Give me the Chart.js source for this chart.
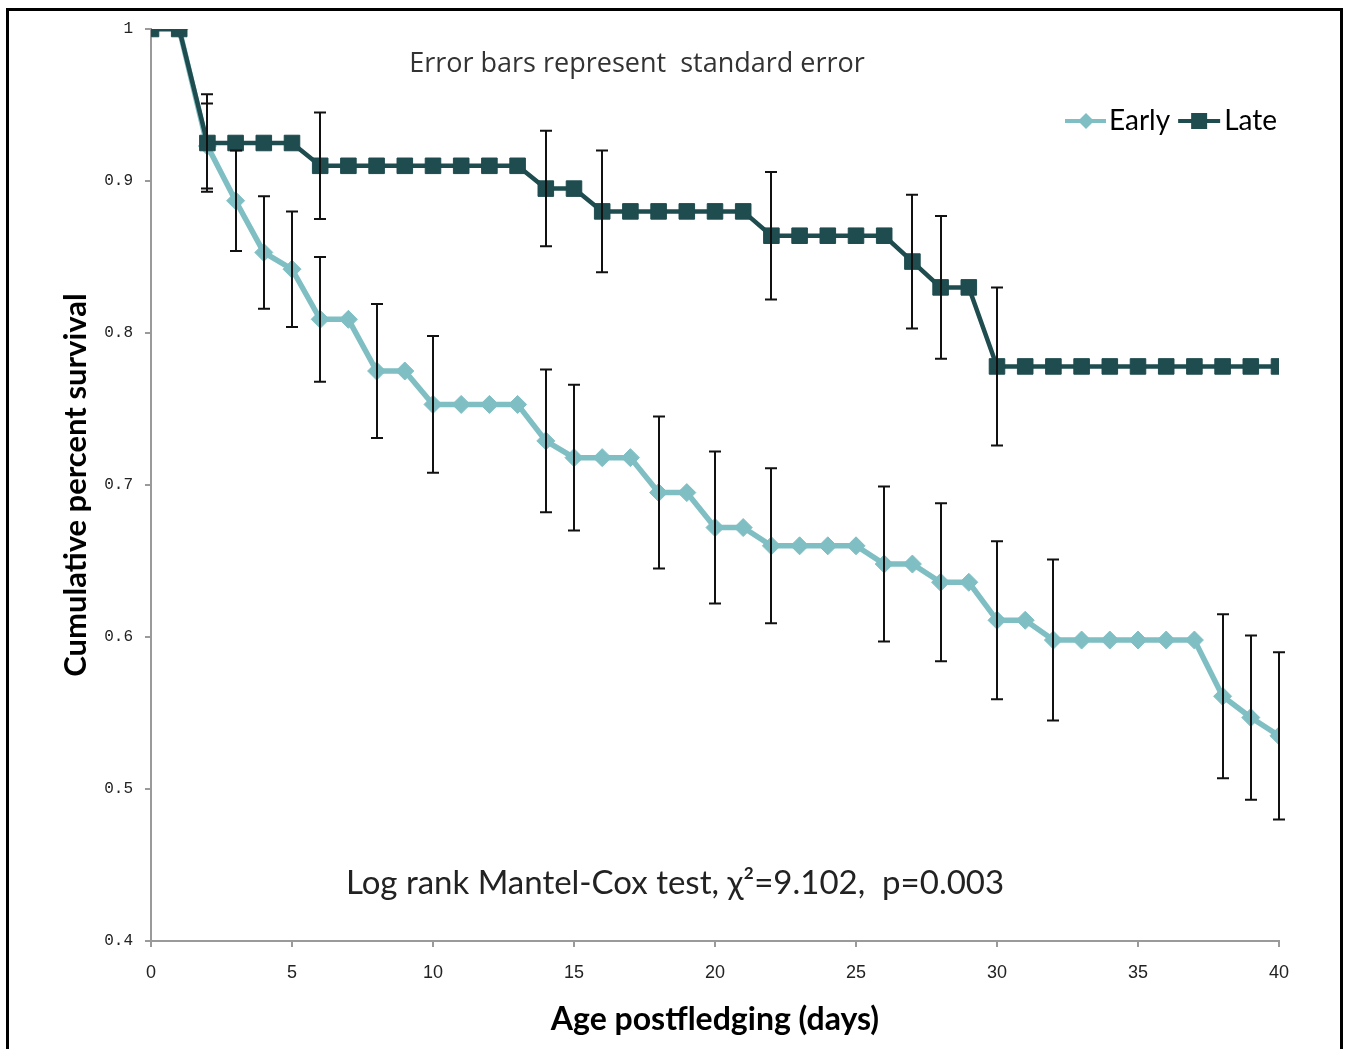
<!DOCTYPE html>
<html>
<head>
<meta charset="utf-8">
<title>Cumulative survival</title>
<script src="https://cdn.jsdelivr.net/npm/chart.js@4.4.1/dist/chart.umd.min.js"></script>
<style>
  body { margin: 0; background: #fff; overflow: hidden; }
  #wrap { position: relative; width: 1351px; height: 1049px; }
  #frame { position: absolute; left: 6px; top: 8px; width: 1337px; height: 1100px; border: 3px solid #000; box-sizing: border-box; }
  canvas { position: absolute; left: 0; top: 0; }
</style>
</head>
<body>
<div id="wrap">
  <div id="frame"></div>
  <canvas id="survival_chart" width="1351" height="1049"></canvas>
</div>
<script>
// days after fledging
const days = [0, 1, 2, 3, 4, 5, 6, 7, 8, 9, 10, 11, 12, 13, 14, 15, 16, 17, 18, 19, 20,
  21, 22, 23, 24, 25, 26, 27, 28, 29, 30, 31, 32, 33, 34, 35, 36, 37, 38, 39, 40];

// early broods
const early = [1, 1, 0.923, 0.887, 0.853, 0.842, 0.809, 0.809, 0.775, 0.775, 0.753,
  0.753, 0.753, 0.753, 0.729, 0.718, 0.718, 0.718, 0.695, 0.695, 0.672,
  0.672, 0.66, 0.66, 0.66, 0.66, 0.648, 0.648, 0.636, 0.636, 0.611,
  0.611, 0.598, 0.598, 0.598, 0.598, 0.598, 0.598, 0.561, 0.547, 0.535];
const earlyErr = [null, null, 0.028, 0.033, 0.037, 0.038, 0.041, null, 0.044, null, 0.045,
  null, null, null, 0.047, 0.048, null, null, 0.05, null, 0.05,
  null, 0.051, null, null, null, 0.051, null, 0.052, null, 0.052,
  null, 0.053, null, null, null, null, null, 0.054, 0.054, 0.055];

// late broods
const late = [1, 1, 0.925, 0.925, 0.925, 0.925, 0.91, 0.91, 0.91, 0.91, 0.91,
  0.91, 0.91, 0.91, 0.895, 0.895, 0.88, 0.88, 0.88, 0.88, 0.88,
  0.88, 0.864, 0.864, 0.864, 0.864, 0.864, 0.847, 0.83, 0.83, 0.778,
  0.778, 0.778, 0.778, 0.778, 0.778, 0.778, 0.778, 0.778, 0.778, 0.778];
const lateErr = [null, null, 0.032, null, null, null, 0.035, null, null, null, null,
  null, null, null, 0.038, null, 0.04, null, null, null, null,
  null, 0.042, null, null, null, null, 0.044, 0.047, null, 0.052,
  null, null, null, null, null, null, null, null, null, null];

const seriesNames = ["Early", "Late"];
const yTicks = [0.4, 0.5, 0.6, 0.7, 0.8, 0.9, 1];

const EARLY_COLOR = "#7fbfc4";
const LATE_COLOR = "#1e4c4f";

function toPoints(values) {
  return days.map(function (d, i) {
    return { x: d, y: values[i] };
  });
}

// error bars + notes + legend
const extras = {
  id: "extras",
  afterDatasetsDraw(chart) {
    const { ctx, scales } = chart;
    const xs = scales.x;
    const ys = scales.y;
    ctx.save();
    ctx.strokeStyle = "#111";
    ctx.lineWidth = 2;
    [[early, earlyErr], [late, lateErr]].forEach(function (pair) {
      const vals = pair[0];
      const errs = pair[1];
      for (var i = 0; i < days.length; i++) {
        if (errs[i] == null) continue;
        const px = Math.round(xs.getPixelForValue(days[i]));
        const top = ys.getPixelForValue(vals[i] + errs[i]);
        const bot = ys.getPixelForValue(vals[i] - errs[i]);
        ctx.beginPath();
        ctx.moveTo(px, top);
        ctx.lineTo(px, bot);
        ctx.moveTo(px - 6, top);
        ctx.lineTo(px + 6, top);
        ctx.moveTo(px - 6, bot);
        ctx.lineTo(px + 6, bot);
        ctx.stroke();
      }
    });
    ctx.restore();
  },
  afterDraw(chart) {
    const { ctx, chartArea } = chart;
    ctx.save();
    ctx.textBaseline = "middle";
    ctx.textAlign = "center";
    ctx.fillStyle = "#333";
    ctx.font = "27px 'Open Sans', sans-serif";
    ctx.fillText("Error bars represent  standard error", chartArea.left + 486, chartArea.top + 35);
    ctx.fillStyle = "#222";
    ctx.font = "33px Lato, sans-serif";
    ctx.fillText("Log rank Mantel-Cox test, \u03c7\u00b2=9.102,  p=0.003", chartArea.left + 524, chartArea.top + 854);

    // legend
    const y = chartArea.top + 92;
    ctx.font = "28px Lato, sans-serif";
    ctx.textAlign = "left";
    ctx.fillStyle = "#000";
    const lateW = ctx.measureText(seriesNames[1]).width;
    const earlyW = ctx.measureText(seriesNames[0]).width;
    var x = chartArea.right - 2 - lateW;
    ctx.fillText(seriesNames[1], x, y);
    // late symbol
    ctx.strokeStyle = LATE_COLOR;
    ctx.lineWidth = 4;
    ctx.beginPath();
    ctx.moveTo(x - 46, y);
    ctx.lineTo(x - 4, y);
    ctx.stroke();
    ctx.fillStyle = LATE_COLOR;
    ctx.fillRect(x - 33, y - 8, 16, 16);
    x = x - 54 - earlyW;
    ctx.fillStyle = "#000";
    ctx.fillText(seriesNames[0], x, y);
    ctx.strokeStyle = EARLY_COLOR;
    ctx.beginPath();
    ctx.moveTo(x - 44, y);
    ctx.lineTo(x - 3, y);
    ctx.stroke();
    ctx.fillStyle = EARLY_COLOR;
    ctx.beginPath();
    ctx.moveTo(x - 23, y - 8);
    ctx.lineTo(x - 15, y);
    ctx.lineTo(x - 23, y + 8);
    ctx.lineTo(x - 31, y);
    ctx.closePath();
    ctx.fill();
    ctx.restore();
  },
};

var ctx = document.getElementById("survival_chart").getContext("2d");
var myChart = new Chart(ctx, {
  type: "line",
  plugins: [extras],
  data: {
    datasets: [
      {
        label: seriesNames[0],
        data: toPoints(early),
        borderColor: EARLY_COLOR,
        backgroundColor: EARLY_COLOR,
        borderWidth: 5.5,
        pointStyle: "rectRot",
        pointRadius: 9,
        pointBorderWidth: 1,
        order: 1,
      },
      {
        label: seriesNames[1],
        data: toPoints(late),
        borderColor: LATE_COLOR,
        backgroundColor: LATE_COLOR,
        borderWidth: 4.5,
        pointStyle: "rect",
        pointRadius: 11,
        pointBorderWidth: 1,
        order: 0,
      },
    ],
  },
  options: {
    responsive: false,
    animation: false,
    layout: {
      padding: { left: 0, top: 29, right: 72, bottom: 0 },
    },
    plugins: {
      legend: { display: false },
      tooltip: { enabled: false },
    },
    scales: {
      x: {
        type: "linear",
        min: 0,
        max: 40,
        afterFit(scale) {
          scale.height = 108;
        },
        ticks: {
          stepSize: 5,
          padding: 15,
          color: "#222",
          font: { family: "'Liberation Sans Narrow', 'Liberation Sans', sans-serif", size: 18 },
        },
        grid: { drawOnChartArea: false, tickLength: 6, color: "#9a9a9a", lineWidth: 2 },
        border: { color: "#9a9a9a", width: 2 },
        title: {
          display: true,
          text: "Age postfledging (days)",
          color: "#000",
          font: { family: "Lato, sans-serif", size: 32, weight: "bold" },
          padding: { top: 0, bottom: 10 },
        },
      },
      y: {
        min: 0.4,
        max: 1,
        afterFit(scale) {
          scale.width = 151;
        },
        afterBuildTicks(scale) {
          scale.ticks = yTicks.map(function (v) { return { value: v }; });
        },
        ticks: {
          padding: 12,
          color: "#222",
          font: { family: "'Liberation Mono', monospace", size: 16 },
          callback: function (v) {
            return String(+Number(v).toFixed(1));
          },
        },
        grid: { drawOnChartArea: false, tickLength: 6, color: "#9a9a9a", lineWidth: 2 },
        border: { color: "#9a9a9a", width: 2 },
        title: {
          display: true,
          text: "Cumulative percent survival",
          color: "#000",
          font: { family: "Lato, sans-serif", size: 31, weight: "bold" },
          padding: { top: 57, bottom: 0 },
        },
      },
    },
  },
});
</script>
</body>
</html>
